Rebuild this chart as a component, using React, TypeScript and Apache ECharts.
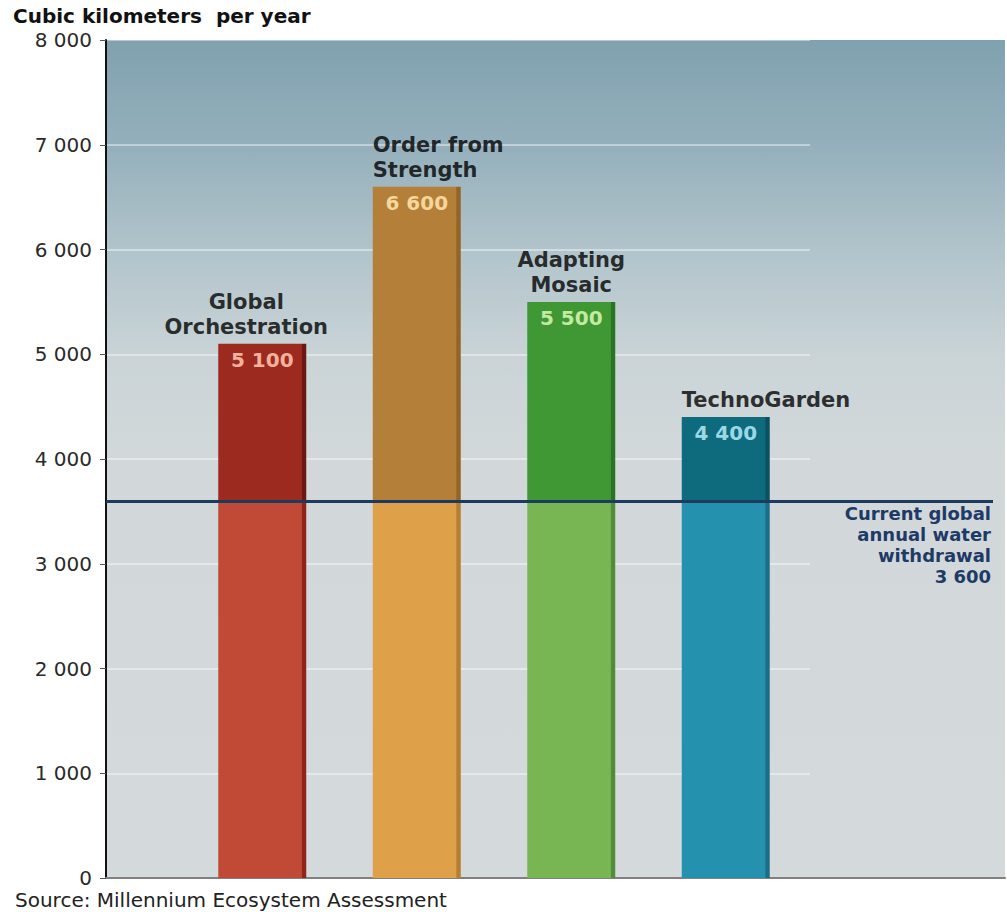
import React, { useEffect, useRef } from 'react';
import * as echarts from 'echarts';

// ---- data ----
const scenarios = ['Global\nOrchestration', 'Order from\nStrength', 'Adapting\nMosaic', 'TechnoGarden'];
const waterWithdrawal = [5100, 6600, 5500, 4400];
const currentWithdrawal = 3600;
const yMin = 0;
const yMax = 8000;
const yStep = 1000;
const unitTitle = 'Cubic kilometers  per year';
const sourceNote = 'Source: Millennium Ecosystem Assessment';
const referenceLines = ['Current global', 'annual water', 'withdrawal'];

// ---- styles ----
const FONT = '"DejaVu Sans", "Liberation Sans", Arial, sans-serif';
const lowerColors = ['#c14a36', '#dfa04a', '#78b553', '#2492ae'];
const lowerEdges = ['#8e241a', '#b67f30', '#4f8d38', '#1a6f86'];
const upperColors = ['#9c2a1f', '#b47f38', '#3f9834', '#0e6a7d'];
const upperEdges = ['#6c1812', '#936426', '#2a7425', '#0a5262'];
const valueLabelColors = ['#f4b29e', '#f6d69a', '#c4e9a0', '#9bd8e6'];
const nameAlign = ['center', 'left', 'center', 'left'];
const nameShift = [-16, -44, 0, -44];
const BAR_W = 88;

const fmt = (n: number) => String(n).replace(/\B(?=(\d{3})+(?!\d))/g, ' ');

const shade = (c: string, edge: string) =>
  new echarts.graphic.LinearGradient(0, 0, 1, 0, [
    { offset: 0, color: c },
    { offset: 0.945, color: c },
    { offset: 0.955, color: edge },
    { offset: 1, color: edge },
  ]);

export default function App() {
  const ref = useRef<HTMLDivElement>(null);

  useEffect(() => {
    document.body.style.margin = '0';
    const chart = echarts.init(ref.current!, null, { renderer: 'svg' });

    const top = 40;
    const bottom = 34;
    const hiddenY = (idx: number, split = false) => ({
      type: 'value',
      gridIndex: idx,
      min: yMin,
      max: yMax,
      interval: yStep,
      axisLine: { show: false },
      axisTick: { show: false },
      axisLabel: { show: false },
      splitLine: split
        ? { show: true, lineStyle: { color: 'rgba(255,255,255,0.42)', width: 2 } }
        : { show: false },
    });
    const hiddenX = (idx: number) => ({
      type: 'value',
      gridIndex: idx,
      min: 0,
      max: 1,
      show: false,
    });

    const option: any = {
      animation: false,
      textStyle: { fontFamily: FONT },
      title: [
        {
          text: unitTitle,
          left: 13,
          top: 6,
          padding: 0,
          textStyle: { fontFamily: FONT, fontSize: 20, fontWeight: 'bold', color: '#111' },
        },
        {
          text: sourceNote,
          left: 15,
          top: 890,
          padding: 0,
          textStyle: { fontFamily: FONT, fontSize: 20, fontWeight: 'normal', color: '#222' },
        },
      ],
      grid: [
        {
          left: 106,
          right: 2,
          top,
          bottom,
          show: true,
          borderWidth: 0,
          backgroundColor: new echarts.graphic.LinearGradient(0, 0, 0, 1, [
            { offset: 0, color: '#80a1af' },
            { offset: 0.12, color: '#93afbb' },
            { offset: 0.26, color: '#b3c5cc' },
            { offset: 0.38, color: '#cad4d7' },
            { offset: 0.5, color: '#d2d8da' },
            { offset: 1, color: '#d4d9dc' },
          ]),
        },
        { left: 106, right: 197, top, bottom },
        { left: 185, right: 204, top, bottom },
        { left: 106, right: 14, top, bottom },
      ],
      xAxis: [
        {
          type: 'value',
          gridIndex: 0,
          min: 0,
          max: 1,
          axisLine: { show: true, lineStyle: { color: '#808080', width: 2 } },
          axisTick: { show: false },
          axisLabel: { show: false },
          splitLine: { show: false },
        },
        hiddenX(1),
        {
          type: 'category',
          gridIndex: 2,
          data: scenarios,
          show: false,
        },
        hiddenX(3),
      ],
      yAxis: [
        {
          type: 'value',
          gridIndex: 0,
          min: yMin,
          max: yMax,
          interval: yStep,
          axisLine: { show: true, lineStyle: { color: '#111', width: 2 } },
          axisTick: { show: true, length: 6, lineStyle: { color: '#555', width: 1 } },
          axisLabel: {
            margin: 14,
            fontSize: 20,
            color: '#2a2a2a',
            fontFamily: FONT,
            formatter: (v: number) => fmt(v),
          },
          splitLine: { show: false },
        },
        hiddenY(1, true),
        hiddenY(2),
        hiddenY(3),
      ],
      series: [
        {
          type: 'bar',
          name: 'below',
          xAxisIndex: 2,
          yAxisIndex: 2,
          stack: 'w',
          barWidth: BAR_W,
          z: 3,
          data: waterWithdrawal.map((v, i) => ({
            value: Math.min(v, currentWithdrawal),
            itemStyle: { color: shade(lowerColors[i], lowerEdges[i]) },
          })),
        },
        {
          type: 'bar',
          name: 'above',
          xAxisIndex: 2,
          yAxisIndex: 2,
          stack: 'w',
          barWidth: BAR_W,
          z: 3,
          data: waterWithdrawal.map((v, i) => ({
            value: Math.max(v - currentWithdrawal, 0),
            itemStyle: { color: shade(upperColors[i], upperEdges[i]) },
            label: { color: valueLabelColors[i] },
          })),
          label: {
            show: true,
            position: 'insideTop',
            distance: 6,
            fontSize: 20,
            fontWeight: 'bold',
            fontFamily: FONT,
            formatter: (p: any) => fmt(waterWithdrawal[p.dataIndex]),
          },
        },
        {
          type: 'scatter',
          name: 'names',
          xAxisIndex: 2,
          yAxisIndex: 2,
          symbolSize: 1,
          z: 4,
          itemStyle: { color: 'rgba(0,0,0,0)' },
          data: waterWithdrawal.map((v, i) => ({
            value: v,
            label: { align: nameAlign[i], offset: [nameShift[i], 0] },
          })),
          label: {
            show: true,
            position: 'top',
            distance: 4,
            fontSize: 21,
            lineHeight: 25,
            fontWeight: 'bold',
            fontFamily: FONT,
            color: '#000',
            formatter: (p: any) => scenarios[p.dataIndex],
          },
        },
        {
          type: 'line',
          name: 'current',
          xAxisIndex: 3,
          yAxisIndex: 3,
          data: [],
          z: 5,
          markLine: {
            silent: true,
            symbol: 'none',
            lineStyle: { color: '#1d3a5f', width: 3, type: 'solid' },
            label: {
              show: true,
              position: 'insideEndBottom',
              distance: 2,
              align: 'right',
              fontSize: 18,
              lineHeight: 21,
              fontWeight: 'bold',
              fontFamily: FONT,
              color: '#1e3a66',
              formatter: () => [...referenceLines, fmt(currentWithdrawal)].join('\n'),
            },
            data: [{ yAxis: currentWithdrawal }],
          },
        },
      ],
    };

    chart.setOption(option);
    return () => chart.dispose();
  }, []);

  return <div ref={ref} style={{ width: 1007, height: 912 }} />;
}
